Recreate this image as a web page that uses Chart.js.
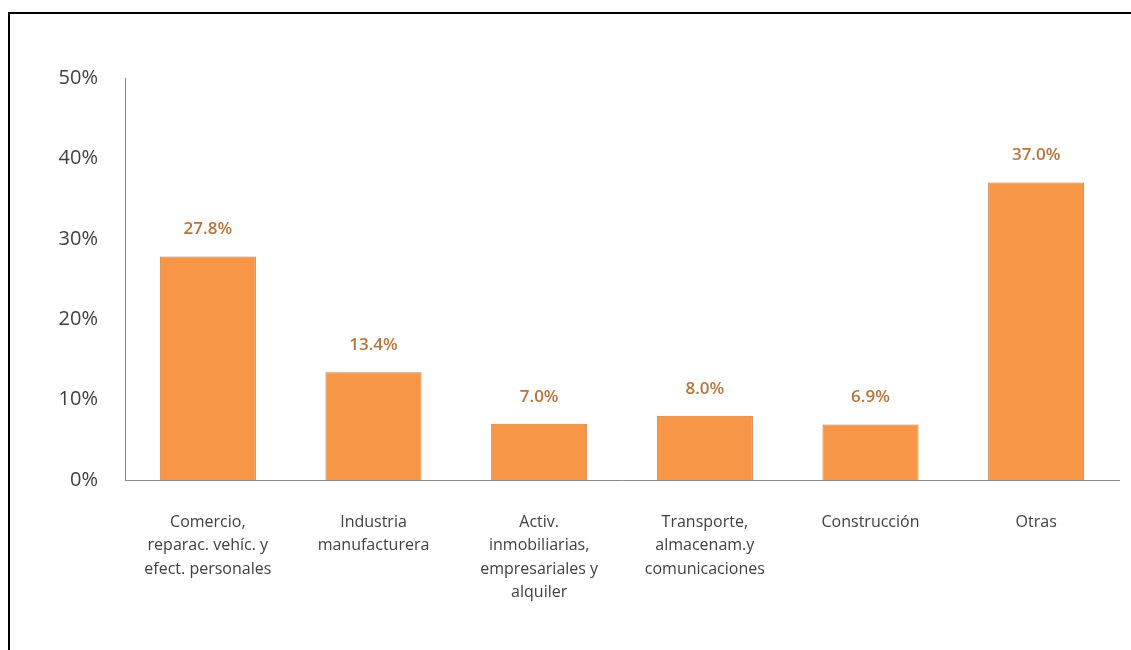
<!DOCTYPE html>
<html>
<head>
<meta charset="utf-8">
<script src="https://cdn.jsdelivr.net/npm/chart.js@4"></script>
<style>
  html, body { margin: 0; padding: 0; background: #fff; }
  .frame {
    position: absolute; left: 8px; top: 12px; right: 0; bottom: 0;
    border-top: 2px solid #000; border-left: 2px solid #000;
  }
  .wrap { position: absolute; left: 0; top: 0; width: 1131px; height: 650px; }
</style>
</head>
<body>
<div class="frame"></div>
<div class="wrap"><canvas id="sectores"></canvas></div>
<script>
// sectors and their share (%)
const sectores = [
  ["Comercio,", "reparac. vehíc. y", "efect. personales"],
  ["Industria", "manufacturera"],
  ["Activ.", "inmobiliarias,", "empresariales y", "alquiler"],
  ["Transporte,", "almacenam.y", "comunicaciones"],
  ["Construcción"],
  ["Otras"]
];
const participacion = [27.8, 13.4, 7.0, 8.0, 6.9, 37.0];
const ejeY = [0, 10, 20, 30, 40, 50];

const FONT = "'Open Sans', sans-serif";

// value labels above each bar
const etiquetas = {
  id: 'etiquetas',
  afterDatasetsDraw(chart) {
    const ctx = chart.ctx;
    const meta = chart.getDatasetMeta(0);
    ctx.save();
    ctx.font = "600 17px " + FONT;
    ctx.fillStyle = '#b8753a';
    ctx.textAlign = 'center';
    ctx.textBaseline = 'middle';
    meta.data.forEach((bar, i) => {
      ctx.fillText(participacion[i].toFixed(1) + '%', bar.x, bar.y - 27);
    });
    ctx.restore();
  }
};

new Chart(document.getElementById('sectores'), {
  type: 'bar',
  data: {
    labels: sectores,
    datasets: [{
      data: participacion,
      backgroundColor: '#f79646',
      borderColor: '#c97b3e',
      borderWidth: 1,
      categoryPercentage: 1,
      barPercentage: 0.58
    }]
  },
  options: {
    responsive: true,
    maintainAspectRatio: false,
    animation: false,
    layout: { padding: { left: 30, top: 78, right: 12, bottom: 0 } },
    plugins: { legend: { display: false }, tooltip: { enabled: false } },
    scales: {
      x: {
        grid: { display: false, drawTicks: false },
        border: { display: true, color: '#8c8c8c', width: 1 },
        ticks: {
          color: '#404040',
          font: { family: FONT, size: 16, lineHeight: 1.45 },
          maxRotation: 0,
          autoSkip: false,
          padding: 31
        },
        afterFit(scale) { scale.height = 170; }
      },
      y: {
        min: ejeY[0],
        max: ejeY[ejeY.length - 1],
        grid: { display: false, drawTicks: false },
        border: { display: true, color: '#8c8c8c', width: 1 },
        ticks: {
          stepSize: 10,
          color: '#404040',
          font: { family: FONT, size: 20 },
          padding: 27,
          callback: v => v + '%'
        },
        afterFit(scale) { scale.width = 95; }
      }
    }
  },
  plugins: [etiquetas]
});
</script>
</body>
</html>
